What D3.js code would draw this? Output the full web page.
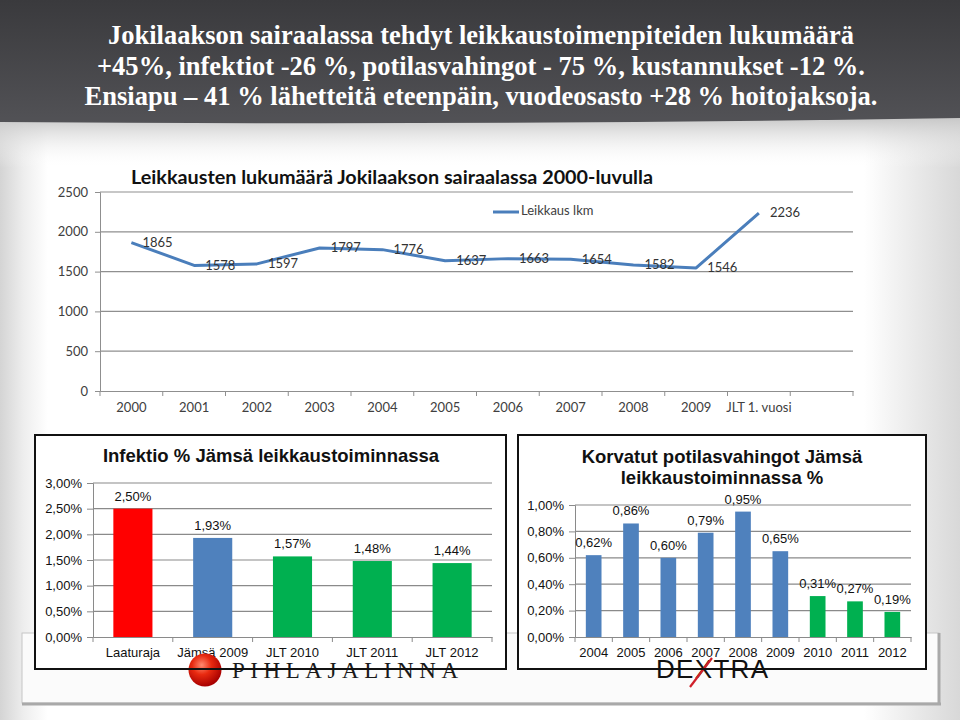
<!DOCTYPE html>
<html><head><meta charset="utf-8">
<script src="https://cdn.jsdelivr.net/npm/d3@7"></script>
<style>body{margin:0;background:#fff;} svg{display:block;}</style>
</head><body>
<svg id="c" width="960" height="720"></svg>
<script>
// ---------- DATA ----------
const titleLines = [
  "Jokilaakson sairaalassa tehdyt leikkaustoimenpiteiden lukumäärä",
  "+45%, infektiot -26 %, potilasvahingot - 75 %, kustannukset -12 %.",
  "Ensiapu – 41 % lähetteitä eteenpäin, vuodeosasto +28 % hoitojaksoja."
];
const lineTitle = "Leikkausten lukumäärä Jokilaakson sairaalassa 2000-luvulla";
const lineSeriesName = "Leikkaus lkm";
const lineCategories = ["2000","2001","2002","2003","2004","2005","2006","2007","2008","2009","JLT 1. vuosi",""];
const leikkausLkm = [1865,1578,1597,1797,1776,1637,1663,1654,1582,1546,2236];
const lineTicks = [0,500,1000,1500,2000,2500];

const infTitle = "Infektio % Jämsä leikkaustoiminnassa";
const infCategories = ["Laaturaja","Jämsä 2009","JLT 2010","JLT 2011","JLT 2012"];
const infValues = [2.50,1.93,1.57,1.48,1.44];
const infTicks = [0,0.5,1,1.5,2,2.5,3];

const potTitle = ["Korvatut potilasvahingot Jämsä","leikkaustoiminnassa %"];
const potCategories = ["2004","2005","2006","2007","2008","2009","2010","2011","2012"];
const potValues = [0.62,0.86,0.60,0.79,0.95,0.65,0.31,0.27,0.19];
const potTicks = [0,0.2,0.4,0.6,0.8,1.0];

// ---------- DRAW ----------
const svg = d3.select("#c");
const defs = svg.append("defs");
const fi = d3.formatLocale({decimal:",",thousands:" ",grouping:[3],currency:["","€"]});
const pct = v => fi.format(".2f")(v) + "%";

// background gradients
const bgH = defs.append("linearGradient").attr("id","bgH").attr("x1",0).attr("x2",1).attr("y1",0).attr("y2",0);
[[0,"#d4d4d4"],[0.025,"#eeeeee"],[0.05,"#ffffff"],[0.9,"#ffffff"],[0.95,"#ebebeb"],[1,"#d8d8d8"]]
  .forEach(([o,c])=>bgH.append("stop").attr("offset",o).attr("stop-color",c));
svg.append("rect").attr("width",960).attr("height",720).attr("fill","url(#bgH)");
const bgV = defs.append("linearGradient").attr("id","bgV").attr("x1",0).attr("x2",0).attr("y1",0).attr("y2",1);
[[0,"#c8c8c8",1],[1,"#ffffff",0]].forEach(([o,c,a])=>bgV.append("stop").attr("offset",o).attr("stop-color",c).attr("stop-opacity",a));
svg.append("rect").attr("x",0).attr("y",118).attr("width",960).attr("height",50).attr("fill","url(#bgV)");

// banner
const ban = defs.append("linearGradient").attr("id","ban").attr("x1",0).attr("x2",0).attr("y1",0).attr("y2",1);
[[0,"#3a3a3d"],[1,"#525256"]].forEach(([o,c])=>ban.append("stop").attr("offset",o).attr("stop-color",c));
svg.append("path").attr("d","M0,0 H960 V118 Q480,126 0,122 Z").attr("fill","url(#ban)");
const tLen = [746,768,793];
titleLines.forEach((t,i)=>{
  svg.append("text").attr("x",481).attr("y",44+i*30.5).attr("text-anchor","middle")
    .attr("font-family","Liberation Serif, serif").attr("font-weight","bold").attr("font-size",26.5)
    .attr("fill","#ffffff").attr("textLength",tLen[i]).attr("lengthAdjust","spacingAndGlyphs").text(t);
});

// ---------- top line chart ----------
const lx = d3.scaleBand().domain(lineCategories).range([100,853]);
const ly = d3.scaleLinear().domain([0,2500]).range([391,192]);
const gl = svg.append("g").attr("font-family","Lato, sans-serif");
gl.selectAll("line.grid").data(lineTicks.filter(d=>d>0)).join("line").attr("class","grid")
  .attr("x1",100).attr("x2",853).attr("y1",d=>ly(d)).attr("y2",d=>ly(d))
  .attr("stroke","#8f8f8f").attr("stroke-width",1.2);
const yAxL = gl.append("g").attr("transform","translate(100,0)")
  .call(d3.axisLeft(ly).tickValues(lineTicks).tickSize(5).tickPadding(7).tickFormat(d3.format("d")));
yAxL.select(".domain").attr("stroke","#8f8f8f");
yAxL.selectAll(".tick line").attr("stroke","#8f8f8f");
yAxL.selectAll("text").attr("font-size",13).attr("fill","#404040").attr("font-family","Lato, sans-serif");
const xAxL = gl.append("g").attr("transform","translate(0,391)")
  .call(d3.axisBottom(lx).tickSize(0).tickPadding(12));
xAxL.select(".domain").attr("stroke","#8f8f8f");
xAxL.selectAll("text").attr("font-size",13).attr("fill","#404040").attr("font-family","Lato, sans-serif");
const lBounds = lineCategories.map(d=>lx(d)).concat([lx.range()[1]]);
gl.selectAll("line.xt").data(lBounds).join("line").attr("class","xt")
  .attr("x1",d=>d).attr("x2",d=>d).attr("y1",391).attr("y2",396).attr("stroke","#8f8f8f");
const lcx = (d,i)=>lx(lineCategories[i])+lx.bandwidth()/2;
gl.append("path").datum(leikkausLkm)
  .attr("d",d3.line().x(lcx).y(d=>ly(d)))
  .attr("fill","none").attr("stroke","#4A7EBB").attr("stroke-width",3).attr("stroke-linejoin","round");
gl.selectAll("text.lbl").data(leikkausLkm).join("text").attr("class","lbl")
  .attr("x",(d,i)=>lcx(d,i)+11).attr("y",d=>ly(d)+1).attr("dominant-baseline","middle")
  .attr("font-size",13).attr("fill","#333").text(d=>d);
gl.append("text").attr("x",392).attr("y",184).attr("text-anchor","middle")
  .attr("font-weight","bold").attr("font-size",19).attr("fill","#111")
  .attr("textLength",522).attr("lengthAdjust","spacingAndGlyphs").text(lineTitle);
gl.append("line").attr("x1",493).attr("x2",519).attr("y1",212).attr("y2",212).attr("stroke","#4A7EBB").attr("stroke-width",3);
gl.append("text").attr("x",521).attr("y",212).attr("dominant-baseline","middle").attr("font-size",13).attr("fill","#404040").text(lineSeriesName);

// ---------- bottom frame ----------
svg.append("rect").attr("x",22).attr("y",633).attr("width",917).attr("height",70).attr("fill","#fbfbfb").attr("stroke","#c6c6c6");
svg.append("line").attr("x1",22).attr("x2",941).attr("y1",704).attr("y2",704).attr("stroke","#a9a9a9").attr("stroke-width",3);
svg.append("line").attr("x1",939).attr("x2",939).attr("y1",633).attr("y2",704).attr("stroke","#a9a9a9").attr("stroke-width",3);

// boxes
const boxes = [[35,435,471,234],[518,435,408,234]];
boxes.forEach(b=>svg.append("rect").attr("x",b[0]).attr("y",b[1]).attr("width",b[2]).attr("height",b[3]).attr("fill","#ffffff"));

function barChart(opts){
  const g = svg.append("g").attr("font-family","Liberation Sans, Arial, sans-serif");
  const x = d3.scaleBand().domain(opts.cats).range(opts.xr).paddingInner(opts.pad).paddingOuter(opts.pad/2);
  const y = d3.scaleLinear().domain(opts.yd).range(opts.yr);
  g.selectAll("line.grid").data(opts.ticks.filter(d=>d>0)).join("line").attr("class","grid")
    .attr("x1",opts.xr[0]).attr("x2",opts.xr[1]).attr("y1",d=>y(d)).attr("y2",d=>y(d))
    .attr("stroke","#8a8a8a").attr("stroke-width",1.2);
  const ya = g.append("g").attr("transform",`translate(${opts.xr[0]},0)`)
    .call(d3.axisLeft(y).tickValues(opts.ticks).tickSize(6).tickPadding(5).tickFormat(pct));
  ya.select(".domain").attr("stroke","#8a8a8a");
  ya.selectAll(".tick line").attr("stroke","#8a8a8a");
  ya.selectAll("text").attr("font-size",13).attr("fill","#111").attr("font-family","Liberation Sans, Arial, sans-serif");
  const xa = g.append("g").attr("transform",`translate(0,${opts.yr[0]})`)
    .call(d3.axisBottom(x).tickSize(0).tickPadding(11));
  xa.select(".domain").attr("stroke","#8a8a8a");
  xa.selectAll("text").attr("font-size",13).attr("fill","#111").attr("font-family","Liberation Sans, Arial, sans-serif");
  const step = x.step();
  const bounds = opts.cats.map(d=>x(d) - step*opts.pad/2).concat([opts.xr[1]]);
  g.selectAll("line.xt").data(bounds).join("line").attr("class","xt")
    .attr("x1",d=>d).attr("x2",d=>d).attr("y1",opts.yr[0]).attr("y2",opts.yr[0]+5).attr("stroke","#8a8a8a");
  g.selectAll("rect.bar").data(opts.vals).join("rect").attr("class","bar")
    .attr("x",(d,i)=>x(opts.cats[i])).attr("width",x.bandwidth())
    .attr("y",d=>y(d)).attr("height",d=>y(0)-y(d)).attr("fill",(d,i)=>opts.color(i));
  g.selectAll("text.lbl").data(opts.vals).join("text").attr("class","lbl")
    .attr("x",(d,i)=>x(opts.cats[i])+x.bandwidth()/2).attr("y",d=>y(d)-8)
    .attr("text-anchor","middle").attr("font-size",13).attr("fill","#111").text(d=>pct(d));
  opts.title.forEach((t,i)=>g.append("text").attr("x",opts.tx).attr("y",opts.ty+i*21)
    .attr("text-anchor","middle").attr("font-weight","bold").attr("font-size",18.5).attr("fill","#111").text(t));
}
barChart({cats:infCategories, vals:infValues, ticks:infTicks, xr:[93,492], yd:[0,3], yr:[637,483], pad:0.51,
  color:i=> i===0?"#FF0000":(i===1?"#4F81BD":"#00B050"), title:[infTitle], tx:271, ty:462});
barChart({cats:potCategories, vals:potValues, ticks:potTicks, xr:[575,911], yd:[0,1], yr:[637,505], pad:0.58,
  color:i=> +potCategories[i] <= 2009 ? "#4F81BD" : "#00B050", title:potTitle, tx:722, ty:463});

// logos
const sph = defs.append("radialGradient").attr("id","sph").attr("cx","40%").attr("cy","35%").attr("r","65%");
[[0,"#ff8a70"],[0.45,"#e82a10"],[1,"#a80000"]].forEach(([o,c])=>sph.append("stop").attr("offset",o).attr("stop-color",c));
svg.append("circle").attr("cx",205).attr("cy",670).attr("r",16.5).attr("fill","url(#sph)");
svg.append("text").attr("x",232).attr("y",678).attr("font-family","Liberation Serif, serif").attr("font-size",23)
  .attr("fill","#1a1a1a").attr("textLength",226).attr("lengthAdjust","spacing").text("PIHLAJALINNA");
svg.append("text").attr("x",656).attr("y",678).attr("font-family","Liberation Sans, sans-serif").attr("font-size",26)
  .attr("fill","#111").attr("textLength",112).attr("lengthAdjust","spacing").text("DEXTRA");
svg.append("line").attr("x1",712).attr("y1",658).attr("x2",690).attr("y2",687).attr("stroke","#d0202a").attr("stroke-width",2.2);

// box borders on top
boxes.forEach(b=>svg.append("rect").attr("x",b[0]).attr("y",b[1]).attr("width",b[2]).attr("height",b[3])
  .attr("fill","none").attr("stroke","#111").attr("stroke-width",2));
</script>
</body></html>
